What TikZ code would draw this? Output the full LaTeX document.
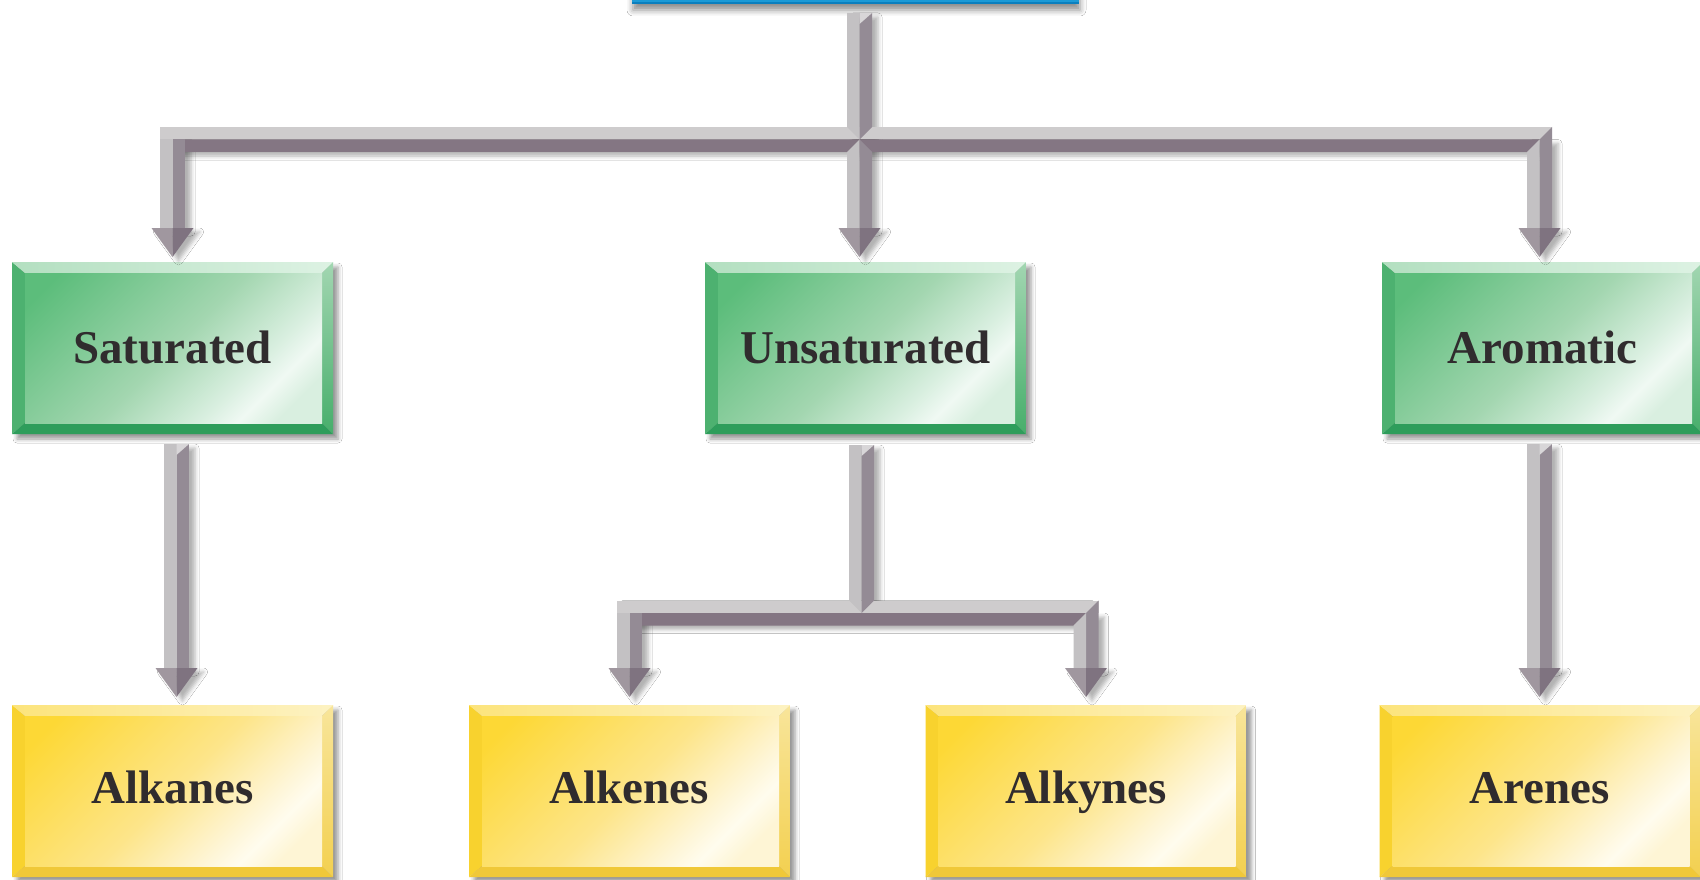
\documentclass[tikz,border=0pt]{standalone}
\usepackage{fontspec}
\setmainfont{Liberation Serif}
\usetikzlibrary{calc,shadows.blur}
\definecolor{txt}{HTML}{302C2E}
\definecolor{barL}{HTML}{C3C1C3}
\definecolor{barD}{HTML}{948B95}
\definecolor{hbarL}{HTML}{CECCCD}
\definecolor{hbarD}{HTML}{847683}
\definecolor{headL}{HTML}{A0979F}
\definecolor{headD}{HTML}{7F7380}
\definecolor{capL}{HTML}{D8D6D8}
\definecolor{topblue}{HTML}{1C9AD6}
\definecolor{topline}{HTML}{0B7FBE}
% green
\definecolor{gA}{HTML}{5CBD7B}
\definecolor{gB}{HTML}{A3D6B0}
\definecolor{gC}{HTML}{D9EFE0}
\definecolor{gHi}{HTML}{F0F9F3}
\definecolor{gTopL}{HTML}{B3DFC0}
\definecolor{gTopR}{HTML}{DDF2E3}
\definecolor{gLeft}{HTML}{4DB170}
\definecolor{gBot}{HTML}{2E9D5B}
\definecolor{gRightT}{HTML}{A2D6B1}
\definecolor{gRightB}{HTML}{47AE6B}
% yellow
\definecolor{yA}{HTML}{FDD835}
\definecolor{yB}{HTML}{FDE58A}
\definecolor{yC}{HTML}{FEF5D5}
\definecolor{yHi}{HTML}{FFFCEE}
\definecolor{yTopL}{HTML}{FCE47C}
\definecolor{yTopR}{HTML}{FDF2C2}
\definecolor{yLeft}{HTML}{F8D22E}
\definecolor{yBot}{HTML}{F0C838}
\definecolor{yRightT}{HTML}{F8E59A}
\definecolor{yRightB}{HTML}{F3D050}
\pgfdeclareverticalshading{gface}{100bp}{color(0bp)=(gC); color(22bp)=(gC); color(28bp)=(gHi); color(34bp)=(gC); color(50bp)=(gB); color(80bp)=(gA); color(100bp)=(gA)}
\pgfdeclareverticalshading{yface}{100bp}{color(0bp)=(yC); color(22bp)=(yC); color(28bp)=(yHi); color(34bp)=(yC); color(50bp)=(yB); color(80bp)=(yA); color(100bp)=(yA)}

\newcommand\BevelFaces[7]{%
  \coordinate (bNW) at (path picture bounding box.north west);
  \coordinate (bSE) at (path picture bounding box.south east);
  \coordinate (bNE) at (bNW -| bSE);
  \coordinate (bSW) at (bSE -| bNW);
  \coordinate (iNW) at ($(bNW)+(13,11)$);
  \coordinate (iSE) at ($(bSE)+(-11,-11)$);
  \coordinate (iNE) at (iNW -| iSE);
  \coordinate (iSW) at (iSE -| iNW);
  \fill[#3] (bNW) -- (iNW) -- (iSW) -- (bSW) -- cycle;
  \shade[left color=#1, right color=#2] (bNW) -- (bNE) -- (iNE) -- (iNW) -- cycle;
  \fill[#4] (bSW) -- (iSW) -- (iSE) -- (bSE) -- cycle;
  \shade[top color=#5, bottom color=#6] (bNE) -- (bSE) -- (iSE) -- (iNE) -- cycle;
  \shade[shading=#7, shading angle=45] (iNW) rectangle (iSE);}

% arrow pieces
\newcommand\ArHead[1]{%
  \fill[headL] (#1) -- ($(#1)+(-21,-29)$) -- ($(#1)+(0,-29)$) -- cycle;
  \fill[headD] (#1) -- ($(#1)+(21,-29)$) -- ($(#1)+(0,-29)$) -- cycle;}
\newcommand\ArCap[1]{\fill[capL] (#1) -- ($(#1)+(12.5,0)$) -- ($(#1)+(0,11)$) -- cycle;}
\newcommand\ArStraight[2]{% top, tip
  \coordinate (tmpH) at ($(#2)+(0,-29)$);
  \fill[barL] ($(#1)+(-12.5,0)$) rectangle (tmpH);
  \fill[barD] (#1) rectangle ($(tmpH)+(12.5,0)$);
  \ArCap{#1}\ArHead{#2}}
\newcommand\ArHbar[2]{% left, right bar centre points
  \fill[hbarL] ($(#1)+(-12.5,-12.5)$) rectangle ($(#2)+(12.5,0)$);
  \fill[hbarD] (#1) -- (#2) -- ($(#2)+(-12.5,12.5)$) -- ($(#1)+(0,12.5)$) -- cycle;}
\newcommand\ArCornerL[2]{%
  \coordinate (tmpH) at ($(#2)+(0,-29)$);
  \fill[barL] ($(#1)+(-12.5,0)$) rectangle (tmpH);
  \fill[barD] (#1) rectangle ($(tmpH)+(12.5,0)$);
  \ArHead{#2}}
\newcommand\ArCornerR[2]{%
  \coordinate (tmpH) at ($(#2)+(0,-29)$);
  \fill[barD] (#1) -- ($(#1)+(12.5,-12.5)$) -- ($(tmpH)+(12.5,0)$) -- (tmpH) -- cycle;
  \fill[barL] ($(#1)+(-12.5,12.5)$) -- (#1) -- (tmpH) -- ($(tmpH)+(-12.5,0)$) -- cycle;
  \ArHead{#2}}
\newcommand\ArDrop[2]{%
  \coordinate (tmpH) at ($(#2)+(0,-29)$);
  \fill[barL] ($(#1)+(-12.5,12.5)$) -- (#1) -- (tmpH) -- ($(tmpH)+(-12.5,0)$) -- cycle;
  \fill[barD] (#1) -- ($(#1)+(12.5,12.5)$) -- ($(tmpH)+(12.5,0)$) -- (tmpH) -- cycle;
  \ArHead{#2}}
\newcommand\ArTrunk[2]{%
  \fill[barL] ($(#1)+(-12.5,0)$) -- (#1) -- (#2) -- ($(#2)+(-12.5,-12.5)$) -- cycle;
  \fill[barD] (#1) -- ($(#1)+(12.5,0)$) -- ($(#2)+(12.5,-12.5)$) -- (#2) -- cycle;
  \ArCap{#1}}
% shadows
\newcommand\ShV[2]{%
  \path[arsh] ($(#1)+(-12.5,0)$) rectangle ($(#2)+(12.5,-29)$);
  \path[arsh] (#2) -- ($(#2)+(-21,-29)$) -- ($(#2)+(21,-29)$) -- cycle;}
\newcommand\ShH[2]{\path[arsh] ($(#1)+(-12.5,-12.5)$) rectangle ($(#2)+(0,12.5)$);}

\tikzset{
  arsh/.style={blur shadow={shadow xshift=6pt, shadow yshift=-4pt, shadow blur radius=4pt, shadow opacity=30}},
  box/.style={minimum width=321pt, minimum height=172pt, inner sep=0pt, outer sep=0pt,
    font=\bfseries\fontsize{47}{52}\selectfont, text=txt, text height=31pt, text depth=0pt,
    blur shadow={shadow xshift=5pt, shadow yshift=-5pt, shadow blur radius=4pt, shadow opacity=40}},
  gbox/.style={box, path picture={\BevelFaces{gTopL}{gTopR}{gLeft}{gBot}{gRightT}{gRightB}{gface}}},
  ybox/.style={box, text depth=6pt, path picture={\BevelFaces{yTopL}{yTopR}{yLeft}{yBot}{yRightT}{yRightB}{yface}}},
  topbox/.style={minimum width=447pt, minimum height=66pt, inner sep=0pt, outer sep=0pt, fill=topblue,
    blur shadow={shadow xshift=1pt, shadow yshift=-7pt, shadow blur radius=6pt, shadow opacity=45}}
}

\begin{document}
\begin{tikzpicture}[x=1pt,y=-1pt]
\useasboundingbox (0,0) rectangle (1700,880);
\clip (0,0) rectangle (1700,880);
\fill[white] (0,0) rectangle (1700,880);

% boxes
\node[topbox] (top) at (855.5,-30) {};
\draw[topline, line width=1.5pt] (top.south west) -- (top.south east);
\node[gbox] (sat) at (172.5,348) {Saturated};
\node[gbox] (uns) at (865.5,348) {Unsaturated};
\node[gbox] (aro) at (1542.5,348) {Aromatic};
\node[ybox] (alkanes) at (172.5,791) {Alkanes};
\node[ybox] (alkenes) at (629.5,791) {Alkenes};
\node[ybox] (alkynes) at (1086,791) {Alkynes};
\node[ybox] (arenes) at (1540,791) {Arenes};

% connector points
\coordinate (t0) at ($(top.south)+(4,10)$);
\coordinate (l1) at ($(sat.north)+(0,-122.5)$);
\coordinate (l2) at ($(sat.north)+(0,-5)$);
\coordinate (m1) at (t0 |- l1);
\coordinate (m2) at (t0 |- l2);
\coordinate (r1) at ($(aro.north)+(-3,-122.5)$);
\coordinate (r2) at (r1 |- l2);

\coordinate (s1) at ($(sat.south)+(4,10)$);
\coordinate (s2) at ($(alkanes.north)+(4,-8)$);
\coordinate (u0) at ($(uns.south)+(-4,11)$);
\coordinate (ub) at ($(uns.south)+(-4,179)$);
\coordinate (e1) at (alkenes.north |- ub);
\coordinate (e2) at ($(alkenes.north)+(0,-8)$);
\coordinate (k1) at (alkynes.north |- ub);
\coordinate (k2) at ($(alkynes.north)+(0,-8)$);
\coordinate (a1) at ($(aro.south)+(-3,10)$);
\coordinate (a2) at (a1 |- s2);

% shadows of connectors
\ShH{l1}{r1}
\path[arsh] ($(t0)+(-12.5,0)$) rectangle ($(m1)+(12.5,0)$);
\ShV{l1}{l2}\ShV{m1}{m2}\ShV{r1}{r2}
\ShV{s1}{s2}\ShV{a1}{a2}
\ShH{e1}{k1}
\path[arsh] ($(u0)+(-12.5,0)$) rectangle ($(ub)+(12.5,0)$);
\ShV{e1}{e2}\ShV{k1}{k2}

% top -> saturated / unsaturated / aromatic
\ArHbar{l1}{r1}
\ArCornerL{l1}{l2}
\ArCornerR{r1}{r2}
\ArTrunk{t0}{m1}
\ArDrop{m1}{m2}

% saturated -> alkanes, aromatic -> arenes
\ArStraight{s1}{s2}
\ArStraight{a1}{a2}

% unsaturated -> alkenes / alkynes
\ArHbar{e1}{k1}
\ArCornerL{e1}{e2}
\ArCornerR{k1}{k2}
\ArTrunk{u0}{ub}
\end{tikzpicture}
\end{document}
